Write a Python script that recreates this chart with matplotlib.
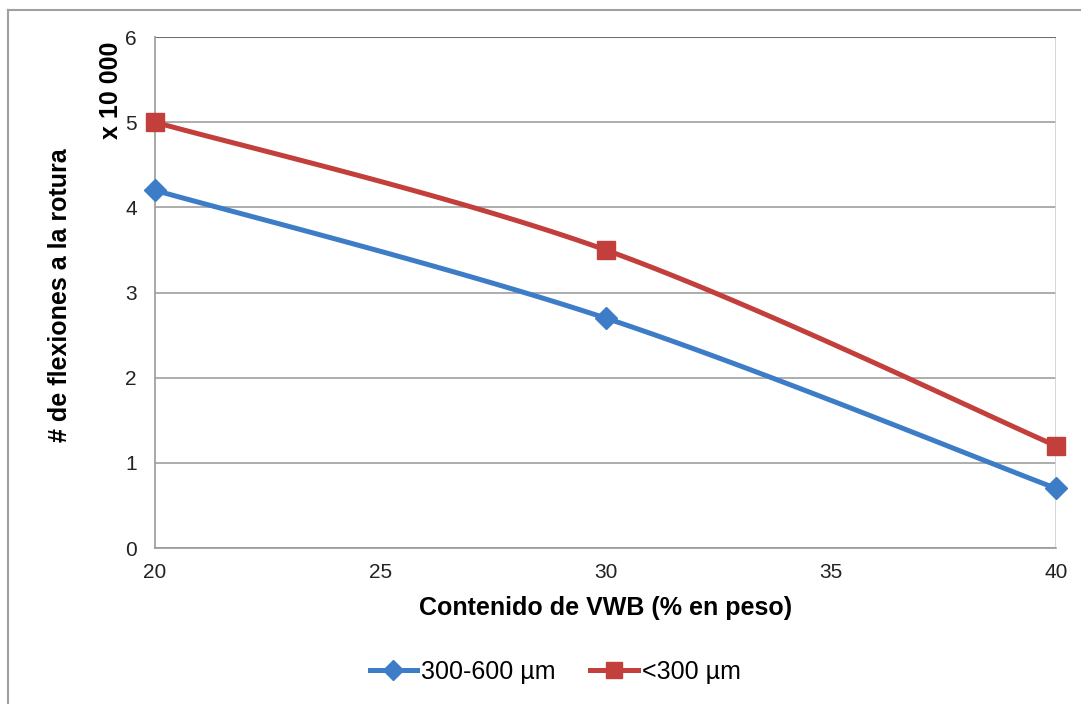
import numpy as np
import matplotlib
matplotlib.use("Agg")
import matplotlib.pyplot as plt
from matplotlib.lines import Line2D

plt.rcParams["font.family"] = ["Liberation Sans", "DejaVu Sans"]

# datos
contenido = [20, 30, 40]
serie_300_600 = [4.2, 2.7, 0.7]
serie_menor_300 = [5.0, 3.5, 1.2]
etiquetas = ["300-600 µm", "<300 µm"]
colores = ["#3d7cc6", "#c23f3c"]


def suavizar(x, y, n=60):
    # curva tipo Excel (Bezier con puntos de control de Catmull-Rom)
    pts = np.column_stack([x, y]).astype(float)
    ext = np.vstack([pts[0], pts, pts[-1]])
    t = np.linspace(0, 1, n)[:, None]
    out = []
    for i in range(1, len(ext) - 2):
        p0, p1, p2, p3 = ext[i - 1], ext[i], ext[i + 1], ext[i + 2]
        c1 = p1 + (p2 - p0) / 6
        c2 = p2 - (p3 - p1) / 6
        seg = ((1 - t) ** 3) * p1 + 3 * ((1 - t) ** 2) * t * c1 + 3 * (1 - t) * t ** 2 * c2 + t ** 3 * p2
        out.append(seg)
    out = np.vstack(out)
    return out[:, 0], out[:, 1]


fig = plt.figure(figsize=(10.81, 7.04), dpi=100)
ax = fig.add_axes([155 / 1081, 1 - 548 / 704, (1056 - 155) / 1081, (548 - 37) / 704])

for ys, col, mk, ms, lab in [
    (serie_300_600, colores[0], "D", 11, etiquetas[0]),
    (serie_menor_300, colores[1], "s", 12.5, etiquetas[1]),
]:
    xs, yy = suavizar(contenido, ys)
    ax.plot(xs, yy, color=col, lw=3.6, solid_capstyle="round", zorder=3)
    ax.plot(contenido, ys, linestyle="none", marker=mk, ms=ms, color=col,
            markeredgecolor=col, zorder=4, clip_on=False)

ax.set_xlim(20, 40)
ax.set_ylim(0, 6)
ax.set_xticks([20, 25, 30, 35, 40])
ax.set_yticks(range(0, 7))
ax.tick_params(length=0, labelsize=15, colors="#222222", pad=13)
ax.tick_params(axis="x", pad=11)
ax.grid(axis="y", color="#a0a0a0", lw=1.2)
ax.set_axisbelow(True)
for s in ["top", "right"]:
    ax.spines[s].set_visible(False)
ax.spines["left"].set_color("#9a9a9a")
ax.spines["bottom"].set_color("#9a9a9a")
ax.spines["left"].set_linewidth(1.2)
ax.spines["bottom"].set_linewidth(1.2)
ax.axvline(40, color="#d0d0d0", lw=1.2, zorder=1)
ax.axhline(6, color="#707070", lw=1.5, zorder=1)

ax.set_xlabel("Contenido de VWB (% en peso)", fontsize=18, fontweight="bold", labelpad=10)
fig.text(60 / 1081, 1 - 295 / 704, "# de flexiones a la rotura", rotation=90,
         fontsize=18, fontweight="bold", ha="center", va="center")
fig.text(111 / 1081, 1 - 90 / 704, "x 10 000", rotation=90,
         fontsize=18, fontweight="bold", ha="center", va="center")

# leyenda
handles = [
    Line2D([], [], color=colores[0], lw=3.6, marker="D", ms=10),
    Line2D([], [], color=colores[1], lw=3.6, marker="s", ms=11.5),
]
fig.legend(handles, etiquetas, loc="center", bbox_to_anchor=(555 / 1081, 1 - 672 / 704),
           ncol=2, frameon=False, fontsize=18, handlelength=1.9, handletextpad=0.15,
           columnspacing=1.4)

# marco del gráfico
fig.add_artist(Line2D([8 / 1081, 8 / 1081], [0, 1 - 10 / 704], color="#a0a0a0", lw=1.5))
fig.add_artist(Line2D([8 / 1081, 1], [1 - 10 / 704, 1 - 10 / 704], color="#a0a0a0", lw=1.5))

fig.savefig("out.png", dpi=100)
